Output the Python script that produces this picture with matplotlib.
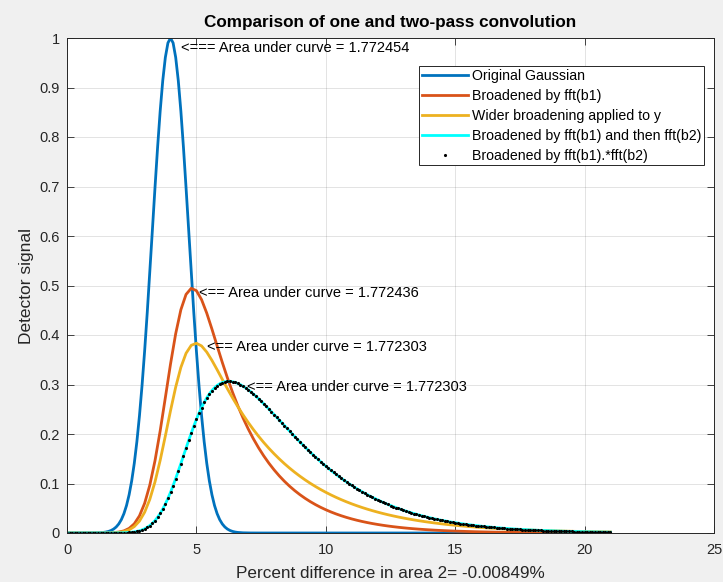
import numpy as np
import matplotlib
matplotlib.use('Agg')
import matplotlib.pyplot as plt

# sample grids (x in 0.1 and 0.2 steps from 0 to 21)
x_fine = np.round(np.arange(0, 21.05, 0.1), 1)
x_coarse = np.round(np.arange(0, 21.1, 0.2), 1)

# original gaussian, peak at x=4
gauss = [0.0] * 9 + [
    0.00007, 0.00012, 0.00022, 0.00039, 0.00068, 0.00116, 0.00193, 0.00315, 0.00504, 0.00791,
    0.01216, 0.01832, 0.02705, 0.03916, 0.05558, 0.07730, 0.10540, 0.14086, 0.18452, 0.23693,
    0.29820, 0.36788, 0.44486, 0.52729, 0.61263, 0.69768, 0.77880, 0.85214, 0.91393, 0.96079,
    0.99005, 1.00000, 0.99005, 0.96079, 0.91393, 0.85214, 0.77880, 0.69768, 0.61263, 0.52729,
    0.44486, 0.36788, 0.29820, 0.23693, 0.18452, 0.14086, 0.10540, 0.07730, 0.05558, 0.03916,
    0.02705, 0.01832, 0.01216, 0.00791, 0.00504, 0.00315, 0.00193, 0.00116, 0.00068, 0.00039,
    0.00022, 0.00012, 0.00007] + [0.0] * 139

# broadened by fft(b1)  (0.2 grid)
broad_b1 = [0.0] * 7 + [
    0.00010, 0.00028, 0.00075, 0.00188, 0.00434, 0.00933, 0.01864, 0.03464, 0.05996, 0.09680,
    0.14602, 0.20624, 0.27344, 0.34136, 0.40275, 0.45107, 0.48202, 0.49431, 0.48956, 0.47138,
    0.44415, 0.41198, 0.37812, 0.34474, 0.31312, 0.28381, 0.25699, 0.23260, 0.21049, 0.19047,
    0.17235, 0.15594, 0.14110, 0.12768, 0.11553, 0.10453, 0.09458, 0.08558, 0.07744, 0.07007,
    0.06340, 0.05737, 0.05191, 0.04697, 0.04250, 0.03846, 0.03480, 0.03148, 0.02849, 0.02578,
    0.02333, 0.02111, 0.01910, 0.01728, 0.01564, 0.01415, 0.01280, 0.01158, 0.01048, 0.00948,
    0.00858, 0.00776, 0.00703, 0.00636, 0.00575, 0.00521, 0.00471, 0.00426, 0.00386, 0.00349,
    0.00316, 0.00286, 0.00258, 0.00234, 0.00212, 0.00191, 0.00173, 0.00157, 0.00142, 0.00128,
    0.00116, 0.00105, 0.00095, 0.00086, 0.00078, 0.00071, 0.00064, 0.00058, 0.00052, 0.00047,
    0.00043, 0.00039, 0.00035, 0.00032, 0.00029, 0.00026, 0.00024, 0.00021, 0.00019]

# wider broadening applied to y  (0.2 grid)
broad_wide = [0.0] * 7 + [
    0.00007, 0.00019, 0.00052, 0.00129, 0.00300, 0.00646, 0.01294, 0.02414, 0.04195, 0.06805,
    0.10323, 0.14677, 0.19613, 0.24713, 0.29482, 0.33455, 0.36307, 0.37910, 0.38334, 0.37789,
    0.36548, 0.34876, 0.32990, 0.31040, 0.29118, 0.27273, 0.25527, 0.23885, 0.22347, 0.20906,
    0.19558, 0.18296, 0.17116, 0.16013, 0.14980, 0.14014, 0.13110, 0.12264, 0.11474, 0.10733,
    0.10041, 0.09394, 0.08788, 0.08221, 0.07691, 0.07195, 0.06731, 0.06297, 0.05891, 0.05511,
    0.05155, 0.04823, 0.04512, 0.04221, 0.03949, 0.03694, 0.03456, 0.03233, 0.03024, 0.02829,
    0.02647, 0.02476, 0.02316, 0.02167, 0.02027, 0.01897, 0.01774, 0.01660, 0.01553, 0.01453,
    0.01359, 0.01271, 0.01189, 0.01113, 0.01041, 0.00974, 0.00911, 0.00852, 0.00797, 0.00746,
    0.00698, 0.00653, 0.00611, 0.00571, 0.00534, 0.00500, 0.00468, 0.00438, 0.00409, 0.00383,
    0.00358, 0.00335, 0.00314, 0.00293, 0.00274, 0.00257, 0.00240, 0.00225, 0.00210]

# broadened by b1 and b2 (two-pass and one-pass give the same curve, 0.1 grid)
broad_both = [0.0] * 16 + [
    0.00002, 0.00004, 0.00006, 0.00010, 0.00018, 0.00029, 0.00044, 0.00068, 0.00103, 0.00153,
    0.00223, 0.00319, 0.00450, 0.00624, 0.00851, 0.01143, 0.01509, 0.01963, 0.02515, 0.03175,
    0.03949, 0.04843, 0.05858, 0.06990, 0.08233, 0.09576, 0.11003, 0.12496, 0.14035, 0.15596,
    0.17156, 0.18693, 0.20185, 0.21611, 0.22957, 0.24208, 0.25352, 0.26384, 0.27299, 0.28096,
    0.28775, 0.29339, 0.29794, 0.30143, 0.30394, 0.30553, 0.30628, 0.30624, 0.30549, 0.30409,
    0.30211, 0.29960, 0.29662, 0.29322, 0.28944, 0.28534, 0.28094, 0.27630, 0.27144, 0.26640,
    0.26121, 0.25588, 0.25046, 0.24495, 0.23939, 0.23379, 0.22816, 0.22253, 0.21690, 0.21130,
    0.20572, 0.20019, 0.19470, 0.18928, 0.18392, 0.17863, 0.17342, 0.16830, 0.16326, 0.15831,
    0.15346, 0.14870, 0.14405, 0.13949, 0.13504, 0.13069, 0.12644, 0.12229, 0.11825, 0.11431,
    0.11048, 0.10674, 0.10311, 0.09958, 0.09615, 0.09282, 0.08958, 0.08643, 0.08339, 0.08043,
    0.07756, 0.07478, 0.07209, 0.06948, 0.06696, 0.06451, 0.06215, 0.05986, 0.05765, 0.05551,
    0.05344, 0.05145, 0.04951, 0.04765, 0.04585, 0.04411, 0.04244, 0.04082, 0.03925, 0.03775,
    0.03630, 0.03489, 0.03355, 0.03224, 0.03099, 0.02978, 0.02862, 0.02749, 0.02641, 0.02537,
    0.02437, 0.02340, 0.02248, 0.02158, 0.02072, 0.01989, 0.01910, 0.01834, 0.01760, 0.01689,
    0.01621, 0.01556, 0.01492, 0.01432, 0.01374, 0.01318, 0.01264, 0.01212, 0.01163, 0.01115,
    0.01070, 0.01026, 0.00984, 0.00943, 0.00904, 0.00867, 0.00831, 0.00797, 0.00764, 0.00732,
    0.00702, 0.00672, 0.00644, 0.00618, 0.00592, 0.00566, 0.00543, 0.00520, 0.00499, 0.00477,
    0.00458, 0.00438, 0.00419, 0.00402, 0.00385, 0.00368, 0.00353, 0.00338, 0.00324, 0.00310,
    0.00297, 0.00284, 0.00272, 0.00261, 0.00249, 0.00239, 0.00229, 0.00219, 0.00210, 0.00200,
    0.00192, 0.00183, 0.00176, 0.00168, 0.00160]

labels = ['Original Gaussian', 'Broadened by fft(b1)', 'Wider broadening applied to y',
          'Broadened by fft(b1) and then fft(b2)', 'Broadened by fft(b1).*fft(b2)']

# annotations: (x, y, text)
notes = [(4.39, 0.980, '<=== Area under curve = 1.772454'),
         (5.11, 0.4855, '<== Area under curve = 1.772436'),
         (5.42, 0.376, '<== Area under curve = 1.772303'),
         (6.96, 0.2956, '<== Area under curve = 1.772303')]

plt.rcParams['font.family'] = ['Liberation Sans', 'DejaVu Sans']
txt = '#262626'

fig = plt.figure(figsize=(7.23, 5.82), dpi=100, facecolor='#f0f0f0')
ax = fig.add_axes([67 / 723, 1 - 533 / 582, (714 - 67) / 723, (533 - 38) / 582])
ax.set_facecolor('white')

ax.plot(x_fine, gauss, color='#0072BD', lw=2, label=labels[0])
ax.plot(x_coarse, broad_b1, color='#D95319', lw=2, label=labels[1])
ax.plot(x_coarse, broad_wide, color='#EDB120', lw=2, label=labels[2])
ax.plot(x_fine, broad_both, color='#00FFFF', lw=2, label=labels[3])
ax.plot(x_fine, broad_both, ls='none', marker='.', ms=4.5, mew=0, color='black', label=labels[4])

for nx, ny, s in notes:
    ax.text(nx, ny, s, fontsize=10.5, va='center', ha='left', color='black')

ax.set_xlim(0, 25)
ax.set_ylim(0, 1)
ax.set_xticks([0, 5, 10, 15, 20, 25])
ax.set_yticks(np.round(np.arange(0, 1.01, 0.1), 1))
ax.set_yticklabels(['0', '0.1', '0.2', '0.3', '0.4', '0.5', '0.6', '0.7', '0.8', '0.9', '1'])
ax.grid(True, color='#262626', alpha=0.15, lw=0.6)
ax.tick_params(direction='in', top=True, right=True, length=5, width=0.6,
               color=txt, labelcolor=txt, labelsize=10.5, pad=5)
ax.tick_params(axis='x', pad=7)
for sp in ax.spines.values():
    sp.set_color(txt)
    sp.set_linewidth(0.7)

ax.set_title('Comparison of one and two-pass convolution', fontsize=12.3, fontweight='bold',
             color='black', pad=8)
ax.set_xlabel('Percent difference in area 2= -0.00849%', fontsize=12.3, color=txt, labelpad=7)
ax.set_ylabel('Detector signal', fontsize=12.5, color=txt, labelpad=4)

leg = ax.legend(loc='upper right', bbox_to_anchor=(704 / 723, 1 - 66 / 582),
                bbox_transform=fig.transFigure, fontsize=10.2, frameon=True, fancybox=False,
                edgecolor=txt, framealpha=1, handlelength=3.25, handletextpad=0.3,
                labelspacing=0.42, borderpad=0.2, borderaxespad=0, markerscale=1.0)
leg.get_frame().set_linewidth(0.7)

fig.savefig('out.png', dpi=100, facecolor=fig.get_facecolor())
